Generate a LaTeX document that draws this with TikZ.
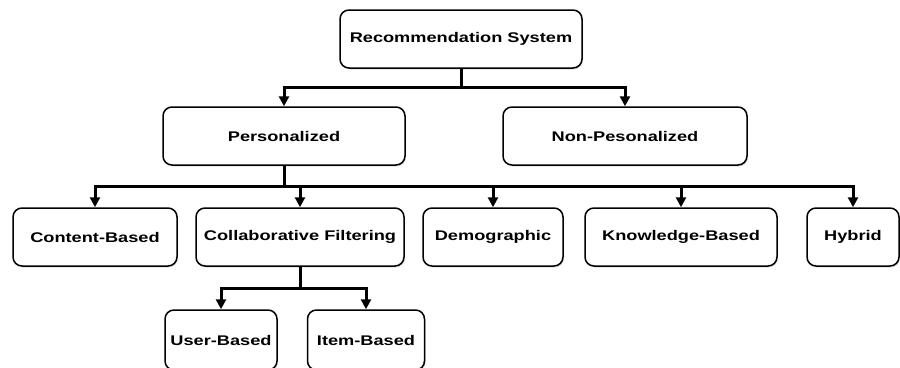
\documentclass[tikz,border=0pt]{standalone}
\usepackage{fontspec}
\setmainfont{Liberation Sans}[FakeStretch=1.3]
\usetikzlibrary{arrows.meta,positioning,shadows}

\tikzset{
  box/.style={draw=black, line width=1.5pt, rounded corners=9pt, fill=white, align=center, inner sep=0pt, minimum height=58pt, font=\fontsize{14}{16}\selectfont\bfseries, drop shadow={opacity=.25, shadow xshift=1pt, shadow yshift=-1.5pt}},
  link/.style={line width=3pt, -{Triangle[width=10pt,length=10pt]}},
  stem/.style={line width=3pt}
}

\begin{document}
\begin{tikzpicture}[x = 1pt, y = -1pt]
\useasboundingbox (0,0) rectangle (900,367);
\node[box, minimum width=242pt] (root) at (461,39) {Recommendation System};
\node[box, minimum width=242pt] (pers) at (284,136) {Personalized};
\node[box, minimum width=244pt] (nonpers) at (625,136) {Non-Pesonalized};
\node[box, minimum width=164pt] (content) at (95,237) {Content-Based};
\node[box, minimum width=208pt] (collab) at (300,237) {Collaborative Filtering};
\node[box, minimum width=140pt] (demo) at (493,237) {Demographic};
\node[box, minimum width=192pt] (know) at (681,237) {Knowledge-Based};
\node[box, minimum width=92pt] (hybrid) at (853,237) {Hybrid};
\node[box, minimum width=112pt, minimum height=60pt] (user) at (221,340) {User-Based};
\node[box, minimum width=117pt, minimum height=60pt] (item) at (366,340) {Item-Based};

\coordinate (rootbus) at (461,87);
\coordinate (persbus) at (284,186);
\coordinate (collabbus) at (300,288);

\draw[stem] (root.south) -- (rootbus);
\draw[link] (rootbus) -| (pers.north);
\draw[link] (rootbus) -| (nonpers.north);

\draw[stem] (pers.south) -- (persbus);
\draw[link] (persbus) -| (content.north);
\draw[link] (persbus) -| (collab.north);
\draw[link] (persbus) -| (demo.north);
\draw[link] (persbus) -| (know.north);
\draw[link] (persbus) -| (hybrid.north);

\draw[stem] (collab.south) -- (collabbus);
\draw[link] (collabbus) -| (user.north);
\draw[link] (collabbus) -| (item.north);
\end{tikzpicture}
\end{document}
